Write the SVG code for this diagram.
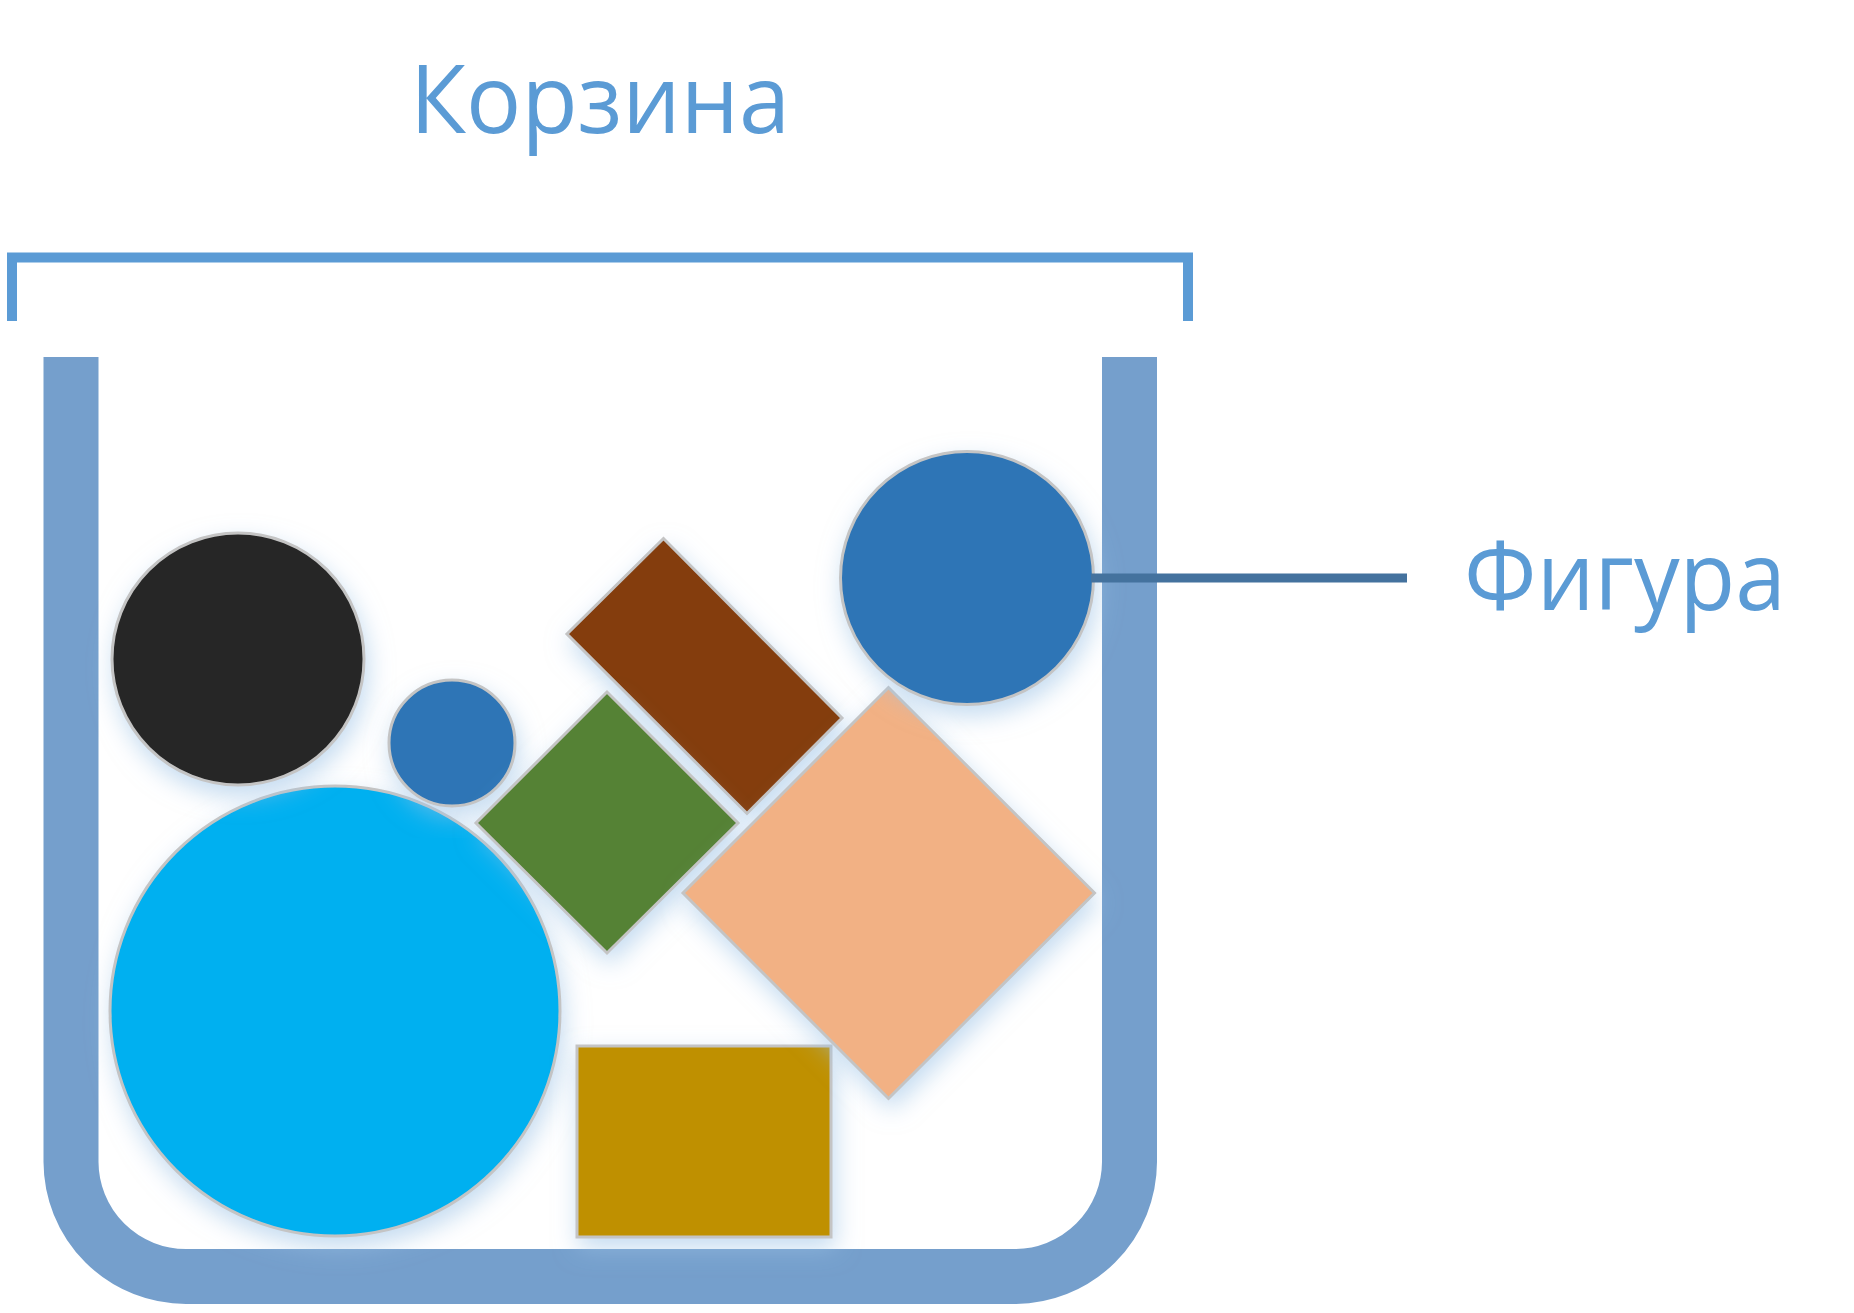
<svg xmlns="http://www.w3.org/2000/svg" width="1854" height="1313" viewBox="0 0 1854 1313">
<defs>
<filter id="glow" x="-25%" y="-25%" width="150%" height="150%">
<feGaussianBlur in="SourceAlpha" stdDeviation="12"/>
<feOffset dx="3" dy="10" result="b"/>
<feFlood flood-color="#9DC3E6" flood-opacity="0.6"/>
<feComposite in2="b" operator="in" result="s"/>
<feMerge><feMergeNode in="s"/><feMergeNode in="SourceGraphic"/></feMerge>
</filter>
<linearGradient id="peachShade" x1="0" y1="0" x2="1" y2="1" gradientUnits="objectBoundingBox">
<stop offset="0" stop-color="#D9A88F"/>
<stop offset="0.14" stop-color="#F2B184"/>
<stop offset="1" stop-color="#F2B184"/>
</linearGradient>
</defs>
<style>
.lbl{font-family:"Open Sans","Noto Sans","DejaVu Sans",sans-serif;font-size:96px;fill:#5B9BD5}
.shape{stroke:#C4C4C4;stroke-width:3;filter:url(#glow)}
</style>
<rect width="1854" height="1313" fill="#FFFFFF"/>

<g id="basket">
<path d="M71,357 V1162 A115,115 0 0 0 186,1276.5 H1014.5 A115,115 0 0 0 1129.5,1162 V357" fill="none" stroke="#759FCC" stroke-width="55"/>
</g>

<g id="bracket">
<path d="M12,321 V257.5 H1188 V321" fill="none" stroke="#5B9BD5" stroke-width="10"/>
</g>

<g id="label-basket">
<text class="lbl" x="410" y="133" textLength="380" lengthAdjust="spacingAndGlyphs">Корзина</text>
</g>

<g id="shape-cyan-circle"><circle class="shape" cx="335" cy="1011" r="225" fill="#00B0F0"/></g>
<g id="shape-black-circle"><circle class="shape" cx="238" cy="659" r="126" fill="#262626"/></g>
<g id="shape-small-blue-circle"><circle class="shape" cx="452" cy="743" r="63" fill="#2E75B6"/></g>
<g id="shape-brown-rect"><polygon class="shape" points="663.5,538.5 567,634 747,813.5 842,718" fill="#843C0C"/></g>
<g id="shape-green-diamond"><polygon class="shape" points="607,692 476,823 607,953 738,823" fill="#548235"/></g>
<g id="shape-gold-rect"><rect class="shape" x="577" y="1046" width="254" height="191" fill="#BF9000"/></g>
<g id="shape-peach-diamond"><polygon class="shape" points="888.5,687.5 683,893 888.5,1098.5 1094.5,893" fill="url(#peachShade)"/></g>
<g id="shape-blue-circle"><circle class="shape" cx="967" cy="578" r="126.5" fill="#2E75B6"/></g>

<g id="connectors">
<line x1="1091" y1="578" x2="1407" y2="578" stroke="#44729E" stroke-width="9"/>
</g>

<g id="label-figure">
<text class="lbl" x="1464" y="610" textLength="322" lengthAdjust="spacingAndGlyphs">Фигура</text>
</g>
</svg>
